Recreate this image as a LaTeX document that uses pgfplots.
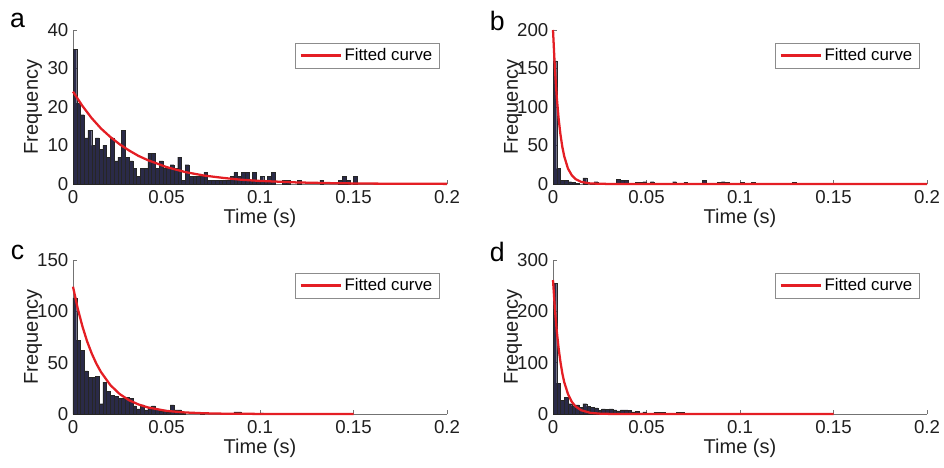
\documentclass[border=0pt]{standalone}
\usepackage{pgfplots}
\pgfplotsset{compat=1.18}
\usepackage{fontspec}
\setmainfont{Liberation Sans}

\definecolor{barcol}{RGB}{42,42,72}
\definecolor{fitred}{RGB}{228,30,36}

\pgfplotsset{
    histpanel/.style={
        scale only axis,
        width=280.5pt, height=115.5pt,
        anchor=south west,
        xmin=0, xmax=0.2, ymin=0,
        enlargelimits=false,
        axis x line*=bottom, axis y line*=left,
        axis line style={black!55, line width=0.5pt},
        tick align=inside,
        major tick length=3pt,
        tick style={black!55, line width=0.5pt},
        xtick={0,0.05,0.1,0.15,0.2},
        xticklabels={0,0.05,0.1,0.15,0.2},
        scaled x ticks=false,
        ticklabel style={font=\fontsize{14}{16}\selectfont, text=black!88},
        xticklabel style={yshift=-1.5pt},
        label style={font=\fontsize{15}{17}\selectfont, text=black!88},
        xlabel={Time (s)},
        ylabel={Frequency},
        xlabel style={at={(axis description cs:0.5,-0.222)}, anchor=center},
        ylabel style={at={(axis description cs:-0.107,0.5)}, anchor=center},
        legend style={at={(0.981,0.916)}, anchor=north east,
            draw=black!45, line width=0.4pt,
            font=\fontsize{12.6}{14}\selectfont,
            inner xsep=3.5pt, inner ysep=2pt},
        legend image code/.code={\draw[#1] (0pt,0pt) -- (30pt,0pt);},
        clip=false,
    },
    histbar/.style={ybar, bar width=0.002, fill=barcol, draw=black!85,
        line width=0.25pt, forget plot},
    fitline/.style={color=fitred, line width=1.7pt},
}

\begin{document}
\begin{tikzpicture}
\path[use as bounding box] (0,0) rectangle (708pt,350.25pt);

% panel a
\begin{axis}[histpanel, at={(54.75pt,212.25pt)},
    ymax=40, ytick={0,10,20,30,40}, yticklabels={0,10,20,30,40}]
\addplot[histbar] coordinates {
    (0.001,35) (0.003,21) (0.005,18) (0.007,12) (0.009,14) (0.011,10)
    (0.013,12) (0.015,9) (0.017,10) (0.019,7) (0.021,12) (0.023,6)
    (0.025,7) (0.027,14) (0.029,7) (0.031,6) (0.033,4) (0.035,2)
    (0.037,4) (0.039,4) (0.041,8) (0.043,8) (0.045,4) (0.047,6)
    (0.049,4) (0.051,4) (0.053,5) (0.055,4) (0.057,7) (0.059,1)
    (0.061,5) (0.063,2) (0.065,2) (0.067,2) (0.069,2) (0.071,3)
    (0.073,1) (0.075,1) (0.077,1) (0.079,1) (0.081,1) (0.083,1)
    (0.085,2) (0.087,3) (0.089,2) (0.091,3) (0.093,3) (0.095,1)
    (0.097,3) (0.099,1) (0.101,2) (0.103,1) (0.105,2) (0.107,3)
    (0.113,1) (0.115,1) (0.121,1) (0.133,1) (0.143,1) (0.145,2)
    (0.147,1) (0.151,2)
};
\addplot[fitline] coordinates {
    (0,24) (0.005,20.3) (0.01,17.1) (0.015,14.4) (0.02,12.2) (0.025,10.3)
    (0.03,8.7) (0.035,7.3) (0.04,6.2) (0.05,4.4) (0.06,3.1) (0.07,2.2)
    (0.08,1.6) (0.09,1.1) (0.1,0.8) (0.12,0.4) (0.14,0.2) (0.16,0.1)
    (0.2,0.03)
};
\addlegendentry{Fitted curve}
\node[font=\fontsize{20}{20}\selectfont] at (rel axis cs:-0.148,1.06) {a};
\end{axis}

% panel b
\begin{axis}[histpanel, at={(414.75pt,212.25pt)},
    ymax=200, ytick={0,50,100,150,200}, yticklabels={0,50,100,150,200}]
\addplot[histbar] coordinates {
    (0.001,160) (0.003,20) (0.005,5) (0.007,5) (0.009,3) (0.011,2)
    (0.013,1) (0.017,8) (0.021,1) (0.023,3) (0.031,1) (0.035,6)
    (0.037,5) (0.039,5) (0.045,2) (0.047,2) (0.049,3) (0.053,3)
    (0.065,3) (0.069,1) (0.071,2) (0.073,1) (0.081,5) (0.089,2)
    (0.091,3) (0.093,2) (0.097,1) (0.101,2) (0.107,2) (0.129,2)
    (0.175,1)
};
\addplot[fitline] coordinates {
    (0,200) (0.001,150) (0.002,113) (0.003,85) (0.004,64) (0.005,48)
    (0.006,36) (0.008,20) (0.01,11.5) (0.012,6.5) (0.015,2.8) (0.02,0.66)
    (0.03,0.04) (0.2,0)
};
\addlegendentry{Fitted curve}
\node[font=\fontsize{20}{20}\selectfont] at (rel axis cs:-0.149,1.06) {b};
\end{axis}

% panel c
\begin{axis}[histpanel, at={(54.75pt,39.75pt)},
    ymax=150, ytick={0,50,100,150}, yticklabels={0,50,100,150}]
\addplot[histbar] coordinates {
    (0.001,113) (0.003,72) (0.005,62) (0.007,42) (0.009,36) (0.011,36)
    (0.013,37) (0.015,10) (0.017,31) (0.019,22) (0.021,18) (0.023,17)
    (0.025,15) (0.027,15) (0.029,16) (0.031,15) (0.033,8) (0.035,5)
    (0.037,9) (0.039,4) (0.041,7) (0.043,8) (0.045,5) (0.047,3)
    (0.049,4) (0.051,2) (0.053,9) (0.055,4) (0.057,4) (0.059,1)
    (0.069,1) (0.087,2) (0.089,2) (0.101,1)
};
\addplot[fitline] coordinates {
    (0,124) (0.0025,103) (0.005,85.6) (0.0075,71) (0.01,59) (0.0125,49)
    (0.015,40.8) (0.02,28.1) (0.025,19.4) (0.03,13.4) (0.035,9.3) (0.04,6.4)
    (0.05,3.0) (0.06,1.5) (0.07,0.7) (0.08,0.33) (0.1,0.08) (0.15,0)
};
\addlegendentry{Fitted curve}
\node[font=\fontsize{20}{20}\selectfont] at (rel axis cs:-0.148,1.05) {c};
\end{axis}

% panel d
\begin{axis}[histpanel, at={(414.75pt,39.75pt)},
    ymax=300, ytick={0,100,200,300}, yticklabels={0,100,200,300}]
\addplot[histbar] coordinates {
    (0.001,254) (0.003,60) (0.005,27) (0.007,33) (0.009,20) (0.011,16)
    (0.013,18) (0.015,13) (0.017,20) (0.019,15) (0.021,13) (0.023,12)
    (0.025,7) (0.027,10) (0.029,9) (0.031,10) (0.033,8) (0.035,6)
    (0.037,8) (0.039,8) (0.041,7) (0.043,4) (0.045,5) (0.047,2)
    (0.049,4) (0.055,3) (0.057,3) (0.059,3) (0.067,3) (0.069,3)
};
\addplot[fitline] coordinates {
    (0,261) (0.001,205) (0.002,162) (0.003,128) (0.004,101) (0.005,79)
    (0.006,62) (0.008,39) (0.01,24) (0.012,15) (0.015,7.4) (0.02,2.2)
    (0.025,0.7) (0.03,0.2) (0.05,0) (0.15,0)
};
\addlegendentry{Fitted curve}
\node[font=\fontsize{20}{20}\selectfont] at (rel axis cs:-0.149,1.05) {d};
\end{axis}
\end{tikzpicture}
\end{document}
